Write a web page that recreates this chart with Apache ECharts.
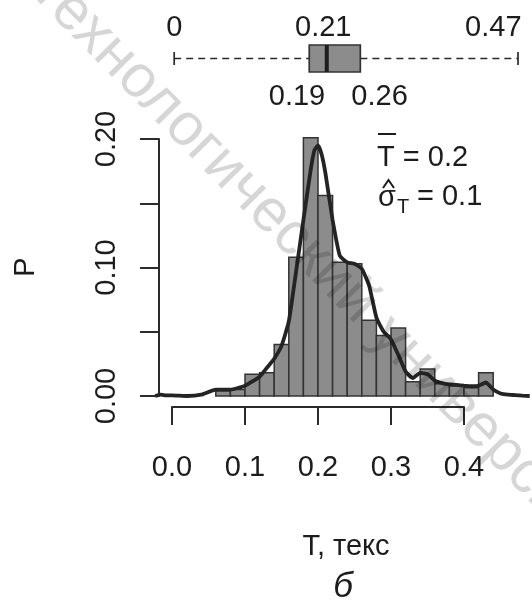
<!DOCTYPE html>
<html><head><meta charset="utf-8">
<script src="https://cdn.jsdelivr.net/npm/echarts@6/dist/echarts.min.js"></script>
<style>html,body{margin:0;padding:0;background:#fff}#c{width:532px;height:600px}</style>
</head><body><div id="c"></div>
<script>
// Histogram bins (left edges), bin width and relative frequencies P
const binStarts = [0.06,0.08,0.10,0.12,0.14,0.16,0.18,0.20,0.22,0.24,0.26,0.28,0.30,0.32,0.34,0.36,0.38,0.40,0.42];
const binWidth = 0.02;
const binHeights = [0.004,0.005,0.017,0.018,0.040,0.108,0.201,0.156,0.104,0.103,0.059,0.047,0.053,0.011,0.021,0.0095,0.008,0.0065,0.018];
// Density curve
const densX = [-0.023,-0.015,-0.008,0.00,0.02,0.04,0.06,0.08,0.10,0.12,0.13,0.14,0.15,0.16,0.17,0.18,0.19,0.195,0.20,0.205,0.21,0.22,0.23,0.24,0.25,0.26,0.27,0.28,0.29,0.30,0.31,0.32,0.33,0.34,0.35,0.36,0.37,0.38,0.39,0.40,0.41,0.42,0.43,0.44,0.45,0.46,0.47,0.48,0.49];
const densY = [0.000,0.001,0.0005,0.0005,0.000,0.001,0.005,0.005,0.008,0.015,0.022,0.029,0.039,0.058,0.097,0.137,0.176,0.191,0.195,0.188,0.174,0.137,0.109,0.104,0.103,0.099,0.086,0.061,0.050,0.044,0.032,0.019,0.014,0.018,0.017,0.012,0.010,0.009,0.0086,0.008,0.0076,0.008,0.0105,0.005,0.002,0.001,0.0007,0.0003,0.000];
// Box plot: min, Q1, median, Q3, max and their printed labels
const boxStats = [0.003,0.188,0.212,0.258,0.474];
const boxLabels = ['0','0.19','0.21','0.26','0.47'];
// Axis tick labels
const yTickLabels = ['0.00','0.10','0.20'];
const xAxisTitle = 'T, текс';
const panelLetter = 'б';
const yAxisTitle = 'P';
const meanText = 'T = 0.2';
const sdText = '= 0.1';
const watermark = 'технологический университет';

const FONT = '"Liberation Sans", Arial, sans-serif';
const FS = 29;
const TXT = '#1c1c1c';
const DARK = '#2b2b2b';
const chart = echarts.init(document.getElementById('c'), null, {renderer:'canvas'});

const opt = {
  animation:false,
  backgroundColor:'#ffffff',
  grid:[
    {left:153.75, top:126.15, width:375.95, height:269.85},
    {left:172, top:399, width:292, height:8},
    {left:159, top:139, width:5, height:257},
    {left:153.75, top:45, width:375.95, height:27}
  ],
  xAxis:[
    {gridIndex:0, type:'value', min:-0.025, max:0.49, show:false},
    {gridIndex:1, type:'value', min:0, max:0.4, interval:0.1, position:'bottom',
      axisLine:{show:true, lineStyle:{color:DARK, width:2}},
      axisTick:{show:true, length:18, lineStyle:{color:DARK, width:2}},
      axisLabel:{margin:46, color:TXT, fontSize:FS, fontFamily:FONT, formatter:v=>v.toFixed(1)},
      splitLine:{show:false}},
    {gridIndex:2, type:'value', show:false},
    {gridIndex:3, type:'value', min:-0.025, max:0.49, show:false}
  ],
  yAxis:[
    {gridIndex:0, type:'value', min:0, max:0.21, show:false},
    {gridIndex:1, type:'value', show:false},
    {gridIndex:2, type:'value', min:0, max:0.2, interval:0.05, position:'left',
      axisLine:{show:true, lineStyle:{color:DARK, width:2}},
      axisTick:{show:true, length:19, lineStyle:{color:DARK, width:2}},
      axisLabel:{rotate:90, margin:38, color:TXT, fontSize:FS, fontFamily:FONT,
        formatter:v=>yTickLabels.includes(v.toFixed(2)) ? v.toFixed(2) : ''},
      splitLine:{show:false}},
    {gridIndex:3, type:'value', min:0, max:1, show:false}
  ],
  series:[
    {
      type:'custom', xAxisIndex:0, yAxisIndex:0, z:2,
      data: binStarts.map((s,i)=>[s, s+binWidth, binHeights[i]]),
      renderItem:(params, api)=>{
        const p0 = api.coord([api.value(0), 0]);
        const p1 = api.coord([api.value(1), api.value(2)]);
        return {type:'rect', shape:{x:p0[0], y:p1[1], width:p1[0]-p0[0], height:p0[1]-p1[1]},
          style:{fill:'#8c8c8c', stroke:'#333', lineWidth:1.5}};
      }
    },
    {
      type:'line', xAxisIndex:0, yAxisIndex:0, z:3,
      data: densX.map((x,i)=>[x, densY[i]]),
      smooth:0.15, showSymbol:false, symbol:'none',
      lineStyle:{color:'#242424', width:3.8}
    },
    {
      type:'custom', xAxisIndex:3, yAxisIndex:3, z:3,
      data:[boxStats],
      renderItem:(params, api)=>{
        const mn = api.coord([api.value(0), 0.5]);
        const q1 = api.coord([api.value(1), 0.5]);
        const md = api.coord([api.value(2), 0.5]);
        const q3 = api.coord([api.value(3), 0.5]);
        const mx = api.coord([api.value(4), 0.5]);
        const yt = api.coord([0, 1])[1], yb = api.coord([0, 0])[1], yc = mn[1];
        const ln = {stroke:DARK, lineWidth:1.7};
        const txt = (t, x, y, align)=>({type:'text', x:x, y:y,
          style:{text:t, font:FS+'px '+FONT, fill:TXT, align:align, verticalAlign:'middle'}});
        return {type:'group', children:[
          {type:'line', shape:{x1:mn[0], y1:yc, x2:q1[0], y2:yc}, style:Object.assign({lineDash:[7,5]}, ln)},
          {type:'line', shape:{x1:q3[0], y1:yc, x2:mx[0], y2:yc}, style:Object.assign({lineDash:[7,5]}, ln)},
          {type:'line', shape:{x1:mn[0], y1:yc-6.5, x2:mn[0], y2:yc+6.5}, style:ln},
          {type:'line', shape:{x1:mx[0], y1:yc-6.5, x2:mx[0], y2:yc+6.5}, style:ln},
          {type:'rect', shape:{x:q1[0], y:yt, width:q3[0]-q1[0], height:yb-yt}, style:{fill:'#8c8c8c', stroke:'#333', lineWidth:1.7}},
          {type:'line', shape:{x1:md[0], y1:yt, x2:md[0], y2:yb}, style:{stroke:'#1e1e1e', lineWidth:4}},
          txt(boxLabels[0], mn[0], yc-30.5, 'center'),
          txt(boxLabels[2], md[0]-3.5, yc-30.5, 'center'),
          txt(boxLabels[4], mx[0]+3.5, yc-30.5, 'right'),
          txt(boxLabels[1], q1[0]+16, yc+38.5, 'right'),
          txt(boxLabels[3], q3[0]-9, yc+38.5, 'left')
        ]};
      }
    }
  ],
  graphic:[
    {type:'text', x:26, y:267, rotation:Math.PI/2, style:{text:yAxisTitle, font:FS+'px '+FONT, fill:TXT, align:'center', verticalAlign:'middle'}},
    {type:'text', x:346, y:547, style:{text:xAxisTitle, font:FS+'px '+FONT, fill:TXT, align:'center', verticalAlign:'middle'}},
    {type:'text', x:343, y:587, style:{text:panelLetter, font:'italic 35px '+FONT, fill:TXT, align:'center', verticalAlign:'middle'}},
    {type:'text', x:377, y:158, style:{text:meanText, font:FS+'px '+FONT, fill:TXT, align:'left', verticalAlign:'middle'}},
    {type:'line', shape:{x1:378, y1:134, x2:396, y2:134}, style:{stroke:TXT, lineWidth:2}},
    {type:'text', x:378, y:198, style:{text:'σ', font:FS+'px '+FONT, fill:TXT, align:'left', verticalAlign:'middle'}},
    {type:'polyline', shape:{points:[[383,188],[388.5,180],[394,188]]}, style:{stroke:TXT, lineWidth:2, fill:null}},
    {type:'text', x:397, y:207, style:{text:'T', font:'20px '+FONT, fill:TXT, align:'left', verticalAlign:'middle'}},
    {type:'text', x:417, y:197, style:{text:sdText, font:FS+'px '+FONT, fill:TXT, align:'left', verticalAlign:'middle'}},
    {type:'text', x:331, y:276, rotation:-0.794, silent:true, z:100,
      style:{text:watermark, font:'60px '+FONT, fill:'rgba(0,0,0,0.16)', align:'center', verticalAlign:'middle'}}
  ]
};
chart.setOption(opt);
</script>
</body></html>
